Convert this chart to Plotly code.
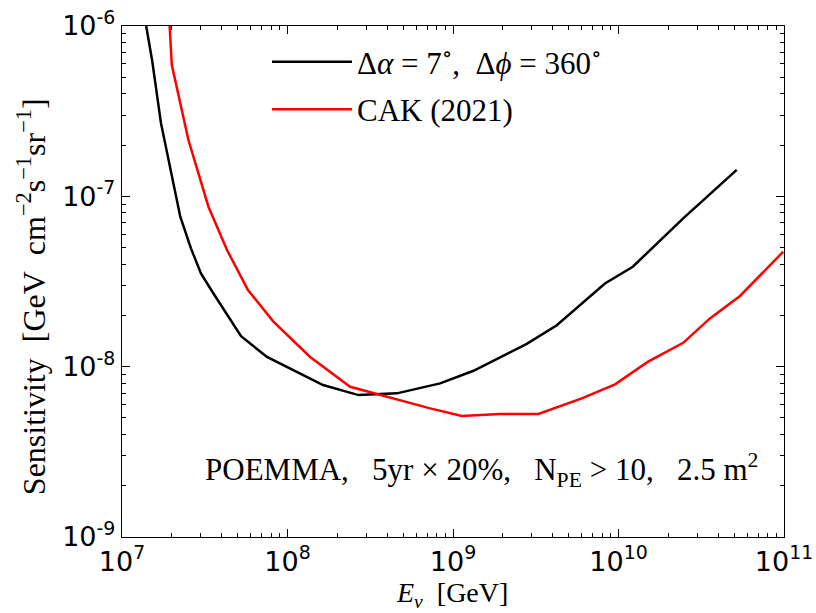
import plotly.graph_objects as go

# Data
energy_black = [1.40e7, 1.52e7, 1.72e7, 1.91e7, 2.25e7, 2.61e7, 3.00e7, 3.57e7, 5.24e7,
                7.52e7, 1.04e8, 1.64e8, 2.69e8, 4.58e8, 8.36e8, 1.33e9, 2.79e9, 4.24e9,
                8.28e9, 1.22e10, 2.46e10, 5.18e10]
sens_black = [1.0e-6, 6.3e-7, 2.69e-7, 1.63e-7, 7.59e-8, 4.95e-8, 3.53e-8, 2.69e-8, 1.51e-8,
              1.14e-8, 9.77e-9, 7.80e-9, 6.81e-9, 6.97e-9, 7.98e-9, 9.46e-9, 1.36e-8, 1.75e-8,
              3.08e-8, 3.86e-8, 7.43e-8, 1.43e-7]

energy_red = [1.94e7, 2.00e7, 2.52e7, 3.33e7, 4.31e7, 5.77e7, 8.22e7, 1.37e8, 2.39e8,
              3.63e8, 7.28e8, 1.13e9, 1.92e9, 3.28e9, 6.00e9, 9.53e9, 1.51e10, 2.46e10,
              3.57e10, 5.42e10, 7.85e10, 9.89e10]
sens_red = [1.0e-6, 5.90e-7, 2.14e-7, 8.69e-8, 4.84e-8, 2.82e-8, 1.84e-8, 1.14e-8, 7.62e-9,
            6.81e-9, 5.69e-9, 5.13e-9, 5.27e-9, 5.27e-9, 6.52e-9, 7.87e-9, 1.07e-8, 1.38e-8,
            1.92e-8, 2.60e-8, 3.78e-8, 4.73e-8]

x_tickvals = [1e7, 1e8, 1e9, 1e10, 1e11]
x_ticktext = ["10<sup>7</sup>", "10<sup>8</sup>", "10<sup>9</sup>", "10<sup>10</sup>", "10<sup>11</sup>"]
y_tickvals = [1e-9, 1e-8, 1e-7, 1e-6]
y_ticktext = ["10<sup>-9</sup>", "10<sup>-8</sup>", "10<sup>-7</sup>", "10<sup>-6</sup>"]
x_minor = [k * 10.0 ** n for n in range(7, 11) for k in range(2, 10)]
y_minor = [k * 10.0 ** n for n in range(-9, -6) for k in range(2, 10)]

NB = "\u00a0"
label_black = f"Δ<i>α</i>{NB}={NB}7<sup>∘</sup>,{NB}{NB}Δ<i>ϕ</i>{NB}={NB}360<sup>∘</sup>"
label_red = "CAK (2021)"
annotation_text = (f"POEMMA,{NB}{NB}{NB}5yr{NB}×{NB}20%,{NB}{NB}{NB}N<sub>PE</sub>{NB}>{NB}10,"
                   f"{NB}{NB}{NB}2.5{NB}m<sup>2</sup>")
x_title = f"<i>E<sub>ν</sub></i>{NB}{NB}[GeV]"
y_title = f"Sensitivity{NB}{NB}[GeV{NB}{NB}cm<sup>−2</sup>s<sup>−1</sup>sr<sup>−1</sup>]"

serif = "Liberation Serif, DejaVu Serif, serif"
sans = "DejaVu Sans, sans-serif"

fig = go.Figure()
fig.add_trace(go.Scatter(x=energy_black, y=sens_black, mode="lines", legendgroup="a",
                         line=dict(color="black", width=2.5), name=label_black))
fig.add_trace(go.Scatter(x=energy_red, y=sens_red, mode="lines", legendgroup="b",
                         line=dict(color="red", width=2.5), name=label_red))

axis_common = dict(
    type="log", showgrid=False, zeroline=False, automargin=False,
    showline=True, linecolor="black", linewidth=1.4, mirror="allticks",
    ticks="inside", ticklen=8, tickwidth=1, tickcolor="black",
    tickfont=dict(family=sans, size=27, color="black"),
)

fig.update_xaxes(axis_common, range=[7, 11], tickvals=x_tickvals, ticktext=x_ticktext,
                 minor=dict(tickmode="array", tickvals=x_minor, ticks="inside", ticklen=4,
                            tickwidth=1, tickcolor="black", showgrid=False))
fig.update_yaxes(axis_common, range=[-9, -6], tickvals=y_tickvals, ticktext=y_ticktext,
                 minor=dict(tickmode="array", tickvals=y_minor, ticks="inside", ticklen=4,
                            tickwidth=1, tickcolor="black", showgrid=False))

fig.add_annotation(x=0.4987, y=-0.1487, xref="paper", yref="paper", xanchor="center", yanchor="bottom",
                   text=x_title, showarrow=False, borderpad=0,
                   font=dict(family=serif, size=28, color="black"))
fig.add_annotation(x=-0.138, y=0.4706, xref="paper", yref="paper", xanchor="center", yanchor="middle",
                   text=y_title, showarrow=False, textangle=-90,
                   font=dict(family=serif, size=32, color="black"))
fig.add_annotation(x=0.5425, y=0.131, xref="paper", yref="paper", xanchor="center", yanchor="middle",
                   text=annotation_text, showarrow=False,
                   font=dict(family=serif, size=31, color="black"))

fig.update_layout(
    width=816, height=613,
    margin=dict(l=122, r=32, t=26, b=76),
    paper_bgcolor="white", plot_bgcolor="white",
    legend=dict(x=0.219, y=0.982, xanchor="left", yanchor="top",
                font=dict(family=serif, size=31, color="black"),
                bgcolor="rgba(0,0,0,0)", itemwidth=80, tracegroupgap=4),
    showlegend=True,
)

fig.write_html("out.html", config={"displayModeBar": False},
               post_script="document.body.style.margin='0px';document.body.style.overflow='hidden';")
